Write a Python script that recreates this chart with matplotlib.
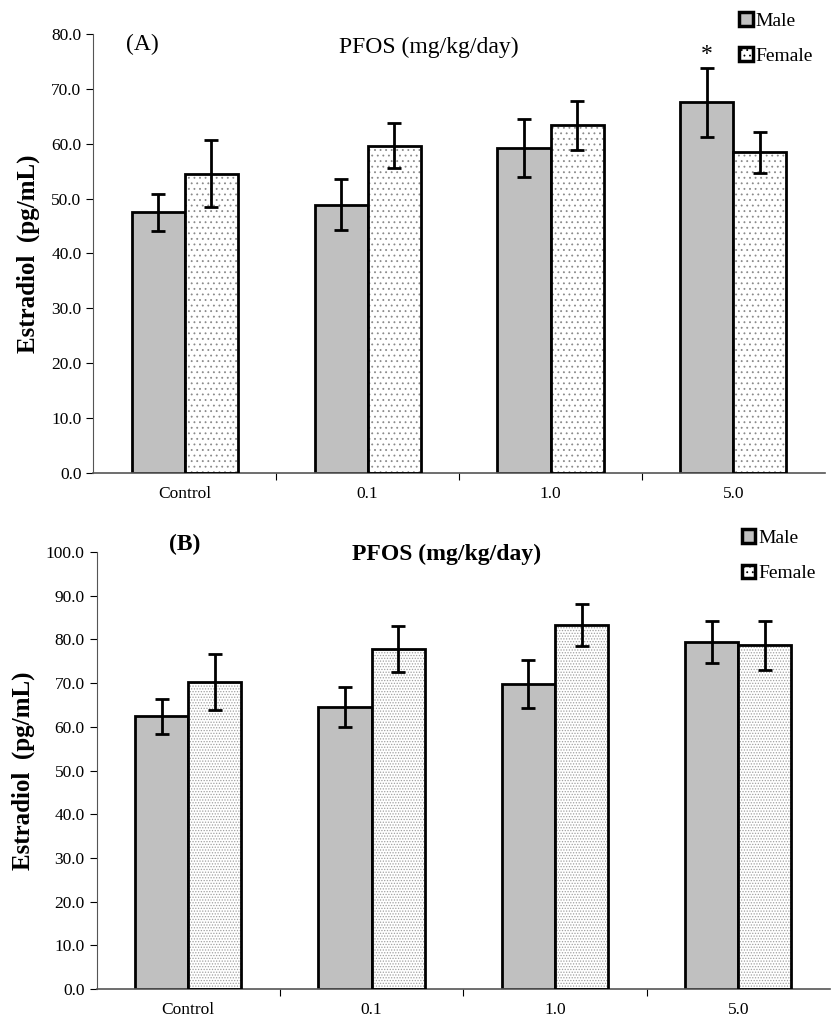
import numpy as np
import matplotlib.pyplot as plt
from matplotlib.patches import Patch

plt.rcParams['font.family'] = 'Liberation Serif'
plt.rcParams['hatch.linewidth'] = 0.6

# данные
groups = ['Control', '0.1', '1.0', '5.0']
male_a = [47.5, 48.9, 59.2, 67.5]
male_a_err = [3.4, 4.7, 5.3, 6.3]
female_a = [54.5, 59.6, 63.3, 58.4]
female_a_err = [6.1, 4.1, 4.5, 3.7]

male_b = [62.4, 64.6, 69.8, 79.5]
male_b_err = [4.0, 4.6, 5.4, 4.8]
female_b = [70.2, 77.8, 83.3, 78.7]
female_b_err = [6.4, 5.3, 4.9, 5.6]

fig = plt.figure(figsize=(8.4, 10.24), dpi=100)
ax_a = fig.add_axes([0.111, 0.538, 0.871, 0.429])
ax_b = fig.add_axes([0.115, 0.034, 0.873, 0.427])

w = 0.29
x = np.arange(len(groups))


def draw_panel(ax, male, male_err, female, female_err, ymax, hatch, hcolor):
    ax.bar(x - w / 2, male, w, color='#c0c0c0', edgecolor='black', linewidth=2, zorder=2)
    # точки штриховки серые, контур черный
    ax.bar(x + w / 2, female, w, color='white', edgecolor=hcolor, hatch=hatch,
           linewidth=0, zorder=2)
    ax.bar(x + w / 2, female, w, color='none', edgecolor='black', linewidth=2, zorder=3)
    ax.errorbar(x - w / 2, male, yerr=male_err, fmt='none', ecolor='black',
                elinewidth=2, capsize=5, capthick=2, zorder=4)
    ax.errorbar(x + w / 2, female, yerr=female_err, fmt='none', ecolor='black',
                elinewidth=2, capsize=5, capthick=2, zorder=4)
    ax.set_xlim(-0.5, 3.5)
    ax.set_ylim(0, ymax)
    ax.set_yticks(np.arange(0, ymax + 1, 10))
    ax.set_yticklabels(['%.1f' % v for v in np.arange(0, ymax + 1, 10)], fontsize=12.5)
    ax.set_xticks([0.5, 1.5, 2.5])
    ax.set_xticklabels([])
    ax.tick_params(axis='x', length=5, direction='out')
    ax.tick_params(axis='y', length=5, direction='out')
    for i, g in enumerate(groups):
        ax.text(i, -0.03 * ymax, g, ha='center', va='top', fontsize=12.5)
    for s in ['top', 'right']:
        ax.spines[s].set_visible(False)
    ax.spines['left'].set_color('#555555')
    ax.spines['bottom'].set_color('#555555')
    ax.spines['bottom'].set_linewidth(1.2)
    ax.set_ylabel('Estradiol  (pg/mL)', fontsize=18, fontweight='bold', labelpad=8)
    handles = [Patch(facecolor='#c0c0c0', edgecolor='black', linewidth=2.5),
               Patch(facecolor='white', edgecolor='black', linewidth=2.5, hatch='...')]
    return handles


h = draw_panel(ax_a, male_a, male_a_err, female_a, female_a_err, 80, '...', '#8a8a8a')
ax_a.text(0.458, 0.97, 'PFOS (mg/kg/day)', transform=ax_a.transAxes, ha='center',
          va='center', fontsize=17)
ax_a.text(0.067, 0.975, '(A)', transform=ax_a.transAxes, ha='center', va='center', fontsize=17)
ax_a.text(3 - w / 2, male_a[3] + male_a_err[3] + 0.5, '*', ha='center', va='bottom', fontsize=17)
ax_a.legend(h, ['Male', 'Female'], loc='upper left', bbox_to_anchor=(0.88, 0.988),
            bbox_transform=fig.transFigure, frameon=False, fontsize=14,
            borderpad=0, borderaxespad=0,
            handlelength=0.7, handleheight=0.7, handletextpad=0.15, labelspacing=0.9)

h = draw_panel(ax_b, male_b, male_b_err, female_b, female_b_err, 100, '......', '#a0a0a0')
ax_b.text(0.477, 0.995, 'PFOS (mg/kg/day)', transform=ax_b.transAxes, ha='center',
          va='center', fontsize=17, fontweight='bold')
ax_b.text(0.12, 1.018, '(B)', transform=ax_b.transAxes, ha='center', va='center',
          fontsize=17, fontweight='bold')
ax_b.legend(h, ['Male', 'Female'], loc='upper left', bbox_to_anchor=(0.883, 0.483),
            bbox_transform=fig.transFigure, frameon=False, fontsize=14,
            borderpad=0, borderaxespad=0,
            handlelength=0.7, handleheight=0.7, handletextpad=0.15, labelspacing=0.9)

plt.savefig('out.png', dpi=100)
plt.close()
